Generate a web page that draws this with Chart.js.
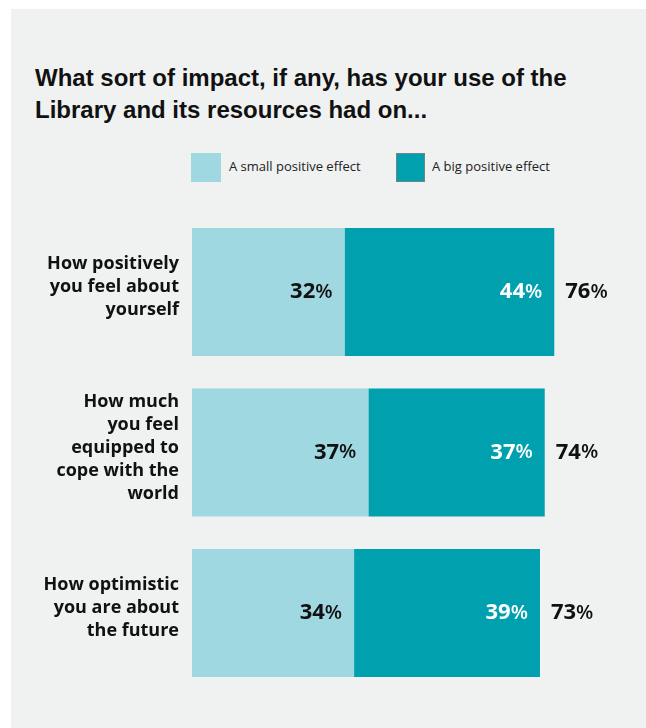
<!DOCTYPE html>
<html>
<head>
<meta charset="utf-8">
<script src="https://cdn.jsdelivr.net/npm/chart.js@4.4.1/dist/chart.umd.min.js"></script>
<style>
  html, body { margin: 0; padding: 0; background: #fff; }
  #painel { position: absolute; left: 11px; top: 9px; width: 635px; height: 719px; background: #f0f1f1; }
  #titulo {
    position: absolute; left: 35px; top: 62px; margin: 0;
    font: bold 24px "Liberation Sans Narrow", "Arial Narrow", sans-serif;
    line-height: 32px; color: #111;
  }
  .legenda-caixa { position: absolute; top: 153px; width: 30px; height: 29px; }
  .legenda-texto {
    position: absolute; top: 157px; line-height: 20px;
    font: 13px "Open Sans", sans-serif; color: #222; white-space: nowrap;
  }
  #grafico { position: absolute; left: 0; top: 0; }
</style>
</head>
<body>
<div id="painel"></div>
<div id="titulo">What sort of impact, if any, has your use of the<br>Library and its resources had on...</div>

<div class="legenda-caixa" style="left:191px; background:#9fd8e0;"></div>
<div class="legenda-texto" style="left:229px;">A small positive effect</div>
<div class="legenda-caixa" style="left:396px; width:27px; height:27px; background:#00a0af; border:1px solid #6f8588;"></div>
<div class="legenda-texto" style="left:432px;">A big positive effect</div>

<canvas id="grafico" width="646" height="728"></canvas>

<script>
// Perguntas (uma linha do eixo por item)
const perguntas = [
  ['How positively', 'you feel about', 'yourself'],
  ['How much', 'you feel', 'equipped to', 'cope with the', 'world'],
  ['How optimistic', 'you are about', 'the future']
];
const efeitoPequeno = [32, 37, 34];
const efeitoGrande = [44, 37, 39];
const totais = [76, 74, 73];

const corClara = '#9fd8e0';
const corEscura = '#00a0af';

// Desenha o percentual com o número em negrito e o "%" mais leve
function desenhaPercentual(ctx, valor, x, y, alinhamento, cor) {
  const num = String(valor);
  ctx.font = 'bold 22px "Open Sans", sans-serif';
  const wNum = ctx.measureText(num).width;
  ctx.font = '600 20px "Open Sans", sans-serif';
  const wPct = ctx.measureText('%').width;
  const inicio = alinhamento === 'right' ? x - wNum - wPct : x;
  ctx.fillStyle = cor;
  ctx.textAlign = 'left';
  ctx.textBaseline = 'middle';
  ctx.font = 'bold 22px "Open Sans", sans-serif';
  ctx.fillText(num, inicio, y);
  ctx.font = '600 20px "Open Sans", sans-serif';
  ctx.fillText('%', inicio + wNum, y);
}

const rotulosValores = {
  id: 'rotulosValores',
  afterDatasetsDraw(chart) {
    const ctx = chart.ctx;
    ctx.save();
    chart.data.datasets.forEach((ds, i) => {
      const meta = chart.getDatasetMeta(i);
      meta.data.forEach((barra, j) => {
        desenhaPercentual(ctx, ds.data[j], barra.x - 12, barra.y, 'right', ds.corRotulo);
      });
    });
    // totais à direita da barra empilhada
    const ultima = chart.getDatasetMeta(chart.data.datasets.length - 1);
    ultima.data.forEach((barra, j) => {
      desenhaPercentual(ctx, totais[j], barra.x + 11, barra.y, 'left', '#111');
    });
    ctx.restore();
  }
};

new Chart(document.getElementById('grafico').getContext('2d'), {
  type: 'bar',
  data: {
    labels: perguntas,
    datasets: [
      { label: 'A small positive effect', data: efeitoPequeno, backgroundColor: corClara, corRotulo: '#111' },
      { label: 'A big positive effect', data: efeitoGrande, backgroundColor: corEscura, corRotulo: '#fff' }
    ]
  },
  options: {
    indexAxis: 'y',
    responsive: false,
    animation: false,
    layout: { padding: { left: 0, right: 25, top: 211.75, bottom: 34.75 } },
    datasets: { bar: { categoryPercentage: 1, barPercentage: 0.7975, borderWidth: 0 } },
    plugins: {
      legend: { display: false },
      title: { display: false },
      tooltip: { enabled: false }
    },
    scales: {
      x: { stacked: true, min: 0, max: 90, display: false },
      y: {
        stacked: true,
        grid: { display: false, drawTicks: false },
        border: { display: false },
        ticks: {
          padding: 13,
          labelOffset: -5,
          color: '#111',
          font: { family: '"Open Sans", sans-serif', size: 18, weight: 'bold', lineHeight: 1.28 }
        },
        afterFit(scale) {
          scale.width = 192;
          scale.paddingTop = 0;
          scale.paddingBottom = 0;
        }
      }
    }
  },
  plugins: [rotulosValores]
});
</script>
</body>
</html>
